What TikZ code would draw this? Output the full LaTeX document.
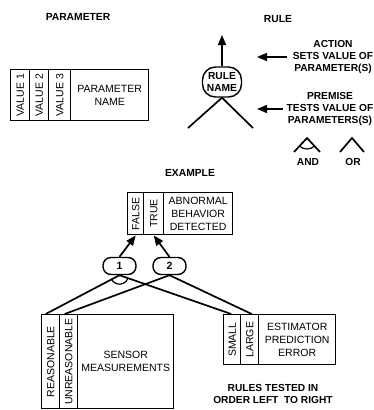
\documentclass[tikz,border=0pt]{standalone}
\usepackage{fontspec}
\setmainfont{Liberation Sans}
\usetikzlibrary{arrows.meta,calc}
\begin{document}
\begin{tikzpicture}[x=1pt,y=-1pt,
  every node/.style={font=\fontsize{10.5}{12.8}\selectfont, inner sep=0pt},
  ttl/.style={font=\bfseries\fontsize{10.3}{12}\selectfont},
  bld/.style={font=\bfseries\fontsize{10.2}{12}\selectfont, align=center},
  cell/.style={draw, line width=1.4pt, anchor=north west, align=center},
  conn/.style={line width=1.7pt},
  thin/.style={line width=1.2pt},
  arr/.style={line width=1.7pt, -{Triangle[length=10pt,width=8pt]}},
  rulebox/.style={draw, line width=1.4pt, rounded corners=8pt, minimum width=33pt, minimum height=17pt, font=\bfseries\fontsize{10.5}{12}\selectfont}
]
\useasboundingbox (0,0) rectangle (373,410);

% ---------- PARAMETER legend ----------
\node[ttl] (tpar) at (78,17) {PARAMETER};
\node[cell, minimum width=19pt, minimum height=51pt] (v1) at (10,69) {\rotatebox{90}{VALUE 1}};
\node[cell, minimum width=19pt, minimum height=51pt] (v2) at (29,69) {\rotatebox{90}{VALUE 2}};
\node[cell, minimum width=22pt, minimum height=51pt] (v3) at (48,69) {\rotatebox{90}{VALUE 3}};
\node[cell, minimum width=78pt, minimum height=51pt] (pn) at (70,69) {PARAMETER\\NAME};

% ---------- RULE legend ----------
\node[ttl] (trule) at (278,19) {RULE};
\node[draw, line width=1.4pt, rounded corners=13pt, minimum width=39pt, minimum height=30pt, bld] (rn) at (222,82) {RULE\\NAME};
\coordinate (ruletip) at (222,35);
\coordinate (legL) at (188,128);
\coordinate (legR) at (253,128);
\draw[arr] (rn.north) -- (ruletip);
\draw[conn] (rn.south) -- (legL);
\draw[conn] (rn.south) -- (legR);

\node[bld] (action) at (333,57) {ACTION\\SETS VALUE OF\\PARAMETER(S)};
\node[bld] (premise) at (330,109) {PREMISE\\TESTS VALUE OF\\PARAMETERS(S)};
\coordinate (acttip) at (257,0);
\draw[arr] ([xshift=-6pt]action.west) -- (acttip |- action.west);
\draw[arr] ([xshift=-4pt]premise.west) -- (acttip |- premise.west);

% AND / OR symbols
\coordinate (andtop) at (307,138);
\coordinate (andL) at (294,152);
\coordinate (andR) at (320,152);
\draw[conn] (andL) -- (andtop) -- (andR);
\draw[thin] ($(andtop)+(47.1:11)$) arc[start angle=47.1, end angle=132.9, radius=11];
\node[bld] (andlbl) at (308,162) {AND};
\coordinate (ortop) at (352,138);
\coordinate (orL) at (340,152);
\coordinate (orR) at (364,152);
\draw[conn] (orL) -- (ortop) -- (orR);
\node[bld] (orlbl) at (353,162) {OR};

% ---------- EXAMPLE ----------
\node[ttl] (tex) at (190,173) {EXAMPLE};
\node[cell, minimum width=16pt, minimum height=42pt] (fals) at (127,192) {\rotatebox{90}{FALSE}};
\node[cell, minimum width=20pt, minimum height=42pt] (tru) at (143,192) {\rotatebox{90}{TRUE}};
\node[cell, minimum width=69pt, minimum height=42pt] (abn) at (163,192) {ABNORMAL\\BEHAVIOR\\DETECTED};

\node[rulebox] (r1) at (119.5,266) {1};
\node[rulebox] (r2) at (169.5,266) {2};
\draw[arr] (r1.north) -- (fals.south);
\draw[arr] (r2.north) -- (tru.south);

\node[cell, minimum width=18pt, minimum height=94pt] (reas) at (41,314) {\rotatebox{90}{REASONABLE}};
\node[cell, minimum width=18pt, minimum height=94pt] (unreas) at (59,314) {\rotatebox{90}{UNREASONABLE}};
\node[cell, minimum width=96pt, minimum height=94pt] (sens) at (77,314) {SENSOR\\MEASUREMENTS};

\node[cell, minimum width=17pt, minimum height=50pt] (small) at (223,314) {\rotatebox{90}{SMALL}};
\node[cell, minimum width=18pt, minimum height=50pt] (large) at (240,314) {\rotatebox{90}{LARGE}};
\node[cell, minimum width=77pt, minimum height=50pt] (est) at (258,314) {ESTIMATOR\\PREDICTION\\ERROR};

\draw[conn] (r1.south) -- ([xshift=-5pt]reas.north);
\draw[conn] (r1.south) -- ([xshift=-1pt]small.north);
\draw[conn] (r2.south) -- ([xshift=-4pt]unreas.north);
\draw[conn] (r2.south) -- ([xshift=2pt]large.north);
\draw[thin] ($(r1.south)+(19.5:9)$) arc[start angle=19.5, end angle=152.1, radius=9];

\node[bld] (note) at (273,394) {RULES TESTED IN\\ORDER LEFT\ \ TO RIGHT};
\end{tikzpicture}
\end{document}
